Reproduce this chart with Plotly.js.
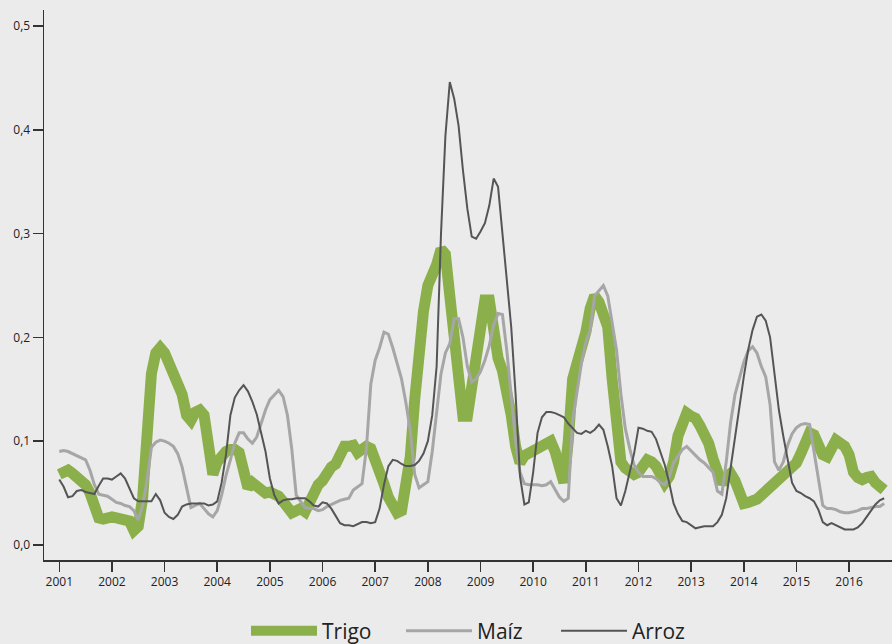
<!DOCTYPE html>
<html>
<head>
<meta charset="utf-8">
<script src="https://cdn.plot.ly/plotly-3.0.1.min.js"></script>
<style>
  html, body { margin: 0; padding: 0; background: #EBEBEB; }
  #chart { width: 892px; height: 644px; }
</style>
</head>
<body>
<div id="chart"></div>
<script>
// Monthly series starting January 2001
const startYear = 2001;
const seriesNames = ["Trigo", "Maíz", "Arroz"];

const trigo = [
  0.068,0.071,0.072,0.069,0.066,0.062,0.058,0.050,0.035,0.026,0.025,0.027,
  0.027,0.026,0.025,0.024,0.023,0.014,0.018,0.045,0.120,0.165,0.185,0.190,
  0.185,0.175,0.166,0.157,0.145,0.125,0.120,0.128,0.130,0.125,0.090,0.068,
  0.080,0.086,0.090,0.092,0.092,0.089,0.070,0.055,0.060,0.056,0.052,0.050,
  0.051,0.049,0.047,0.042,0.036,0.031,0.033,0.035,0.032,0.042,0.052,0.058,
  0.062,0.070,0.075,0.078,0.088,0.095,0.095,0.096,0.089,0.092,0.095,0.093,
  0.083,0.073,0.059,0.046,0.035,0.031,0.033,0.053,0.085,0.140,0.195,0.225,
  0.250,0.258,0.270,0.285,0.280,0.240,0.195,0.160,0.124,0.124,0.150,0.190,
  0.215,0.236,0.236,0.205,0.180,0.168,0.150,0.125,0.095,0.079,0.086,0.088,
  0.090,0.092,0.095,0.098,0.100,0.090,0.072,0.060,0.100,0.160,0.175,0.188,
  0.205,0.228,0.240,0.234,0.225,0.210,0.160,0.105,0.080,0.074,0.070,0.068,
  0.070,0.079,0.082,0.080,0.076,0.068,0.060,0.066,0.080,0.105,0.120,0.127,
  0.124,0.122,0.115,0.108,0.098,0.083,0.070,0.059,0.066,0.069,0.062,0.048,
  0.040,0.041,0.042,0.044,0.048,0.052,0.055,0.058,0.061,0.066,0.070,0.075,
  0.079,0.088,0.098,0.108,0.106,0.096,0.087,0.085,0.092,0.101,0.098,0.095,
  0.087,0.070,0.065,0.063,0.065,0.066,0.060,0.055,0.053
];

const maiz = [
  0.090,0.091,0.090,0.088,0.086,0.084,0.082,0.072,0.058,0.049,0.048,0.047,
  0.044,0.041,0.040,0.038,0.037,0.033,0.024,0.038,0.062,0.094,0.099,0.101,
  0.100,0.098,0.095,0.088,0.075,0.055,0.036,0.038,0.040,0.035,0.030,0.027,
  0.033,0.048,0.067,0.082,0.098,0.108,0.108,0.102,0.098,0.104,0.118,0.130,
  0.140,0.145,0.149,0.143,0.125,0.092,0.048,0.042,0.036,0.035,0.035,0.033,
  0.034,0.037,0.039,0.041,0.043,0.044,0.045,0.053,0.056,0.059,0.093,0.155,
  0.178,0.190,0.205,0.203,0.190,0.176,0.160,0.137,0.110,0.068,0.055,0.058,
  0.061,0.090,0.130,0.165,0.185,0.194,0.218,0.218,0.200,0.172,0.157,0.160,
  0.167,0.178,0.192,0.212,0.223,0.222,0.187,0.143,0.100,0.070,0.059,0.058,
  0.058,0.058,0.057,0.058,0.061,0.053,0.046,0.042,0.045,0.120,0.150,0.175,
  0.195,0.207,0.240,0.245,0.250,0.240,0.215,0.188,0.145,0.112,0.093,0.077,
  0.070,0.066,0.066,0.066,0.064,0.060,0.058,0.065,0.079,0.086,0.092,0.095,
  0.091,0.086,0.082,0.079,0.075,0.070,0.052,0.049,0.080,0.118,0.145,0.162,
  0.176,0.187,0.191,0.185,0.172,0.162,0.135,0.080,0.072,0.080,0.096,0.107,
  0.113,0.116,0.117,0.116,0.090,0.062,0.038,0.035,0.035,0.034,0.032,0.031,
  0.031,0.032,0.033,0.035,0.035,0.036,0.037,0.037,0.040
];

const arroz = [
  0.063,0.056,0.046,0.047,0.052,0.053,0.051,0.050,0.049,0.057,0.064,0.064,
  0.063,0.066,0.069,0.064,0.055,0.045,0.042,0.042,0.042,0.042,0.049,0.043,
  0.031,0.027,0.025,0.029,0.037,0.039,0.040,0.040,0.040,0.040,0.038,0.039,
  0.042,0.060,0.087,0.125,0.142,0.149,0.154,0.148,0.138,0.126,0.108,0.090,
  0.064,0.048,0.040,0.043,0.044,0.044,0.045,0.045,0.045,0.042,0.038,0.037,
  0.041,0.040,0.035,0.028,0.021,0.019,0.019,0.018,0.020,0.022,0.022,0.021,
  0.022,0.035,0.058,0.076,0.082,0.081,0.078,0.076,0.076,0.077,0.081,0.088,
  0.100,0.125,0.172,0.300,0.394,0.446,0.430,0.404,0.361,0.324,0.297,0.295,
  0.302,0.310,0.327,0.353,0.345,0.298,0.258,0.210,0.145,0.066,0.039,0.041,
  0.070,0.108,0.123,0.128,0.128,0.127,0.125,0.123,0.117,0.112,0.108,0.107,
  0.110,0.108,0.111,0.116,0.111,0.095,0.076,0.045,0.038,0.052,0.070,0.088,
  0.113,0.112,0.110,0.109,0.102,0.090,0.077,0.060,0.040,0.030,0.023,0.022,
  0.019,0.016,0.017,0.018,0.018,0.018,0.022,0.029,0.045,0.074,0.104,0.135,
  0.162,0.188,0.207,0.220,0.222,0.216,0.200,0.165,0.130,0.105,0.082,0.060,
  0.052,0.050,0.047,0.045,0.042,0.034,0.022,0.019,0.021,0.019,0.017,0.015,
  0.015,0.015,0.017,0.021,0.027,0.033,0.039,0.043,0.045
];

const yearTicks = [2001,2002,2003,2004,2005,2006,2007,2008,2009,2010,2011,2012,2013,2014,2015,2016];
const yTicks = [0, 0.1, 0.2, 0.3, 0.4, 0.5];

function monthsAxis(arr) { return arr.map((_, i) => startYear + i / 12); }

const traces = [
  { x: monthsAxis(trigo), y: trigo, name: seriesNames[0], type: "scatter", mode: "lines",
    line: { color: "#8BB04B", width: 11 } },
  { x: monthsAxis(maiz), y: maiz, name: seriesNames[1], type: "scatter", mode: "lines",
    line: { color: "#A6A6A6", width: 3 } },
  { x: monthsAxis(arroz), y: arroz, name: seriesNames[2], type: "scatter", mode: "lines",
    line: { color: "#555555", width: 2 } }
];

const layout = {
  width: 892, height: 644,
  paper_bgcolor: "#EBEBEB", plot_bgcolor: "#EBEBEB",
  margin: { l: 44, r: 0, t: 10, b: 84 },
  separators: ",.",
  font: { family: "Open Sans, Noto Sans, sans-serif", color: "#222222" },
  showlegend: true,
  legend: {
    orientation: "h", xref: "container", yref: "container",
    x: 246 / 892, xanchor: "left", y: 0.02, yanchor: "middle",
    entrywidth: 74, entrywidthmode: "pixels",
    font: { size: 21, color: "#222222" }, itemwidth: 66, bgcolor: "rgba(0,0,0,0)"
  },
  xaxis: {
    range: [2000.71, 2016.815], tickvals: yearTicks, ticktext: yearTicks.map(String),
    showgrid: false, zeroline: false, showline: true, linecolor: "#333333", linewidth: 1.5,
    ticks: "outside", ticklen: 10, tickwidth: 1.5, tickcolor: "#333333",
    tickfont: { size: 12, color: "#222222" }
  },
  yaxis: {
    range: [-0.0145, 0.5154], tickvals: yTicks, tickformat: ".1f",
    showgrid: false, zeroline: false, showline: true, linecolor: "#333333", linewidth: 1.5,
    ticks: "outside", ticklen: 10, tickwidth: 1.5, tickcolor: "#333333",
    tickfont: { size: 12, color: "#222222" }
  }
};

Plotly.newPlot("chart", traces, layout, { displayModeBar: false, staticPlot: true });
</script>
</body>
</html>
